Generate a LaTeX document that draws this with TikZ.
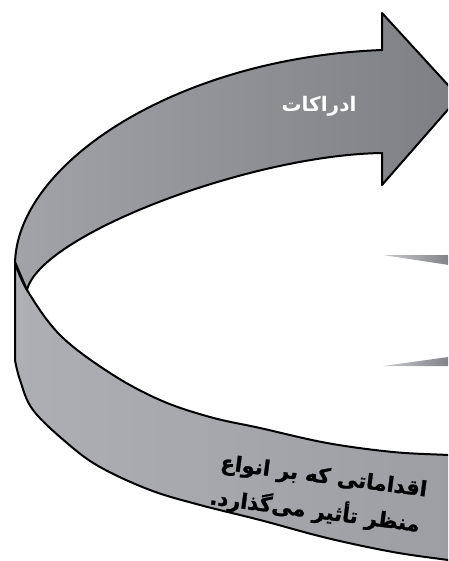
\documentclass[tikz,border=0pt]{standalone}
\usepackage{fontspec}
\newfontfamily\arabicfont[Script=Arabic]{DejaVu Sans}
\newfontfamily\arabicbold[Script=Arabic,FakeBold=1.2]{DejaVu Sans}
\TeXXeTstate=1
\definecolor{upL}{HTML}{A2A3A7}
\definecolor{upR}{HTML}{7E7F83}
\definecolor{loL}{HTML}{AEAFB3}
\definecolor{loR}{HTML}{9C9DA1}
\definecolor{wedgeL}{HTML}{C9CACE}
\definecolor{wedgeR}{HTML}{7E7F83}
\begin{document}
\begin{tikzpicture}[x=1pt,y=-1pt,
  band/.style={draw=black,line width=2pt,line join=round},
  wedge/.style={left color=wedgeL,right color=wedgeR},
  toplabel/.style={text=white,font=\arabicfont\bfseries\fontsize{20}{24}\selectfont},
  botlabel/.style={text=black,anchor=base,rotate=-7.5,inner sep=0pt,font=\arabicbold\bfseries\fontsize{21}{25}\selectfont}]
\useasboundingbox (0,0) rectangle (448,561);
\clip (0,0) rectangle (448,561);
% lower (front) band
\path[band,left color=loL,right color=loR]
  plot[smooth,tension=0.6] coordinates {(15,262) (27,290) (60,335) (110,373) (160,400) (210,417) (260,428) (327,443) (393,452) (448,455) (480,457)}
  -- (480,566)
  -- plot[smooth,tension=0.6] coordinates {(470,563) (448,560) (393,552) (327,538) (260,520) (200,505) (150,490) (100,467) (67,443) (33,410) (20,380) (15,360)}
  -- cycle;
% upper band with arrow head
\path[band,left color=upL,right color=upR]
  (15,265) .. controls (15,165) and (175,58) .. (382,50)
  -- (382,13) -- (459,97) -- (382,185) -- (382,153)
  .. controls (250,155) and (40,235) .. (27,290)
  -- (15,262) -- cycle;
% fragments of another arrow at the right
\path[wedge] (383,255) -- (452,255) -- (452,265.5) -- cycle;
\path[wedge] (383,366) -- (452,356.5) -- (452,366) -- cycle;
% labels
\node[toplabel] (perc) at (319,106) {\beginR ادراکات\endR};
\node[botlabel] (act1) at (323,483) {\beginR اقداماتی که بر انواع\endR};
\node[botlabel] (act2) at (314,518) {\beginR منظر تأثیر می‌گذارد.\endR};
\end{tikzpicture}
\end{document}
